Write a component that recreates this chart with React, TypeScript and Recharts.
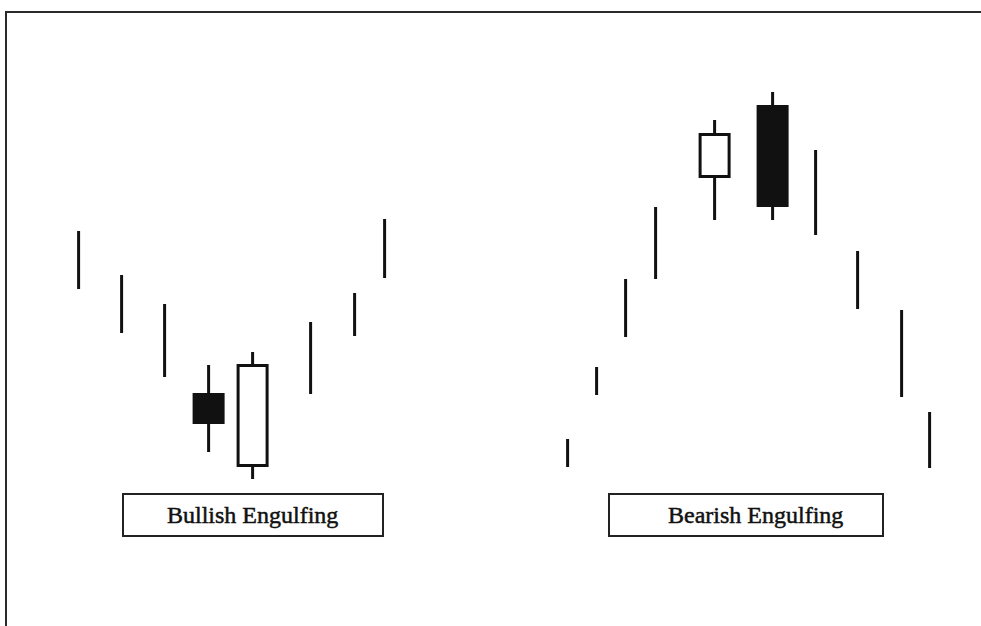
import { Bar, ComposedChart, XAxis, YAxis } from "recharts";

// session position (arbitrary time units) and price levels
const sessions = [7.9, 12.2, 16.5, 20.9, 25.3, 31.1, 35.5, 38.5, 56.8, 59.7, 62.6, 65.6, 71.5, 77.3, 81.6, 85.8, 90.2, 93.0];
const highs = [39.5, 35.1, 32.2, 26.1, 27.4, 30.4, 33.3, 40.7, 18.7, 25.9, 34.7, 41.9, 50.6, 53.4, 47.6, 37.5, 31.6, 21.4];
const lows = [33.7, 29.3, 24.9, 17.4, 14.7, 23.2, 29.0, 34.8, 15.9, 23.1, 28.9, 34.7, 40.6, 40.6, 39.1, 31.7, 22.9, 15.8];
const opens: (number | null)[] = [null, null, null, 23.3, 15.9, null, null, null, null, null, null, null, 44.8, 52.1, null, null, null, null];
const closes: (number | null)[] = [null, null, null, 20.2, 26.2, null, null, null, null, null, null, null, 49.3, 41.9, null, null, null, null];

const patternLabels = ["Bullish Engulfing", "Bearish Engulfing"];

type Candle = { t: number; high: number; low: number; open: number | null; close: number | null; range: [number, number] };

const candles: Candle[] = sessions.map((t, i) => ({
  t,
  high: highs[i],
  low: lows[i],
  open: opens[i],
  close: closes[i],
  range: [lows[i], highs[i]],
}));

const INK = "#111";
const BODY_W = 32;

function CandleShape(props: any) {
  const { x, y, width, height, payload } = props;
  const top = Math.min(y, y + height);
  const h = Math.abs(height);
  const cx = x + width / 2;
  const c = payload as Candle;
  const ppu = h / (c.high - c.low);
  const wick = <line x1={cx} x2={cx} y1={top} y2={top + h} stroke={INK} strokeWidth={3} />;
  if (c.open == null || c.close == null) return <g>{wick}</g>;
  const bodyTop = top + (c.high - Math.max(c.open, c.close)) * ppu;
  const bodyBottom = top + (c.high - Math.min(c.open, c.close)) * ppu;
  const bullish = c.close > c.open;
  const bx = cx - BODY_W / 2;
  return (
    <g>
      {wick}
      {bullish ? (
        <rect x={bx + 1.5} y={bodyTop + 1.5} width={BODY_W - 3} height={bodyBottom - bodyTop - 3} fill="#fff" stroke={INK} strokeWidth={3} />
      ) : (
        <rect x={bx} y={bodyTop} width={BODY_W} height={bodyBottom - bodyTop} fill={INK} />
      )}
    </g>
  );
}

const boxStyle = (left: number, width: number, pad: number): React.CSSProperties => ({
  position: "absolute",
  left,
  top: 493,
  width,
  height: 44,
  boxSizing: "border-box",
  border: "2px solid #222",
  background: "#fff",
  fontFamily: '"Liberation Serif", "DejaVu Serif", serif',
  fontSize: 24,
  color: INK,
  lineHeight: "40px",
  paddingLeft: pad,
  whiteSpace: "nowrap",
  WebkitTextStroke: "0.5px #111",
});

export default function App() {
  return (
    <div style={{ position: "absolute", left: 0, top: 0, width: 981, height: 626, background: "#fff", overflow: "hidden" }}>
      <div style={{ position: "absolute", left: 5, top: 11, width: 976, height: 615, borderTop: "2.5px solid #2a2a2a", borderLeft: "2.5px solid #2a2a2a" }} />
      <ComposedChart width={981} height={626} data={candles} margin={{ top: 0, right: 0, bottom: 0, left: 0 }} style={{ position: "absolute", left: 0, top: 0 }}>
        <XAxis type="number" dataKey="t" domain={[0, 98.1]} hide allowDataOverflow />
        <YAxis type="number" domain={[0, 62.6]} hide allowDataOverflow />
        <Bar dataKey="range" barSize={32} shape={CandleShape} isAnimationActive={false} />
      </ComposedChart>
      <div style={boxStyle(122, 262, 43)}>{patternLabels[0]}</div>
      <div style={boxStyle(608, 276, 58)}>{patternLabels[1]}</div>
    </div>
  );
}
